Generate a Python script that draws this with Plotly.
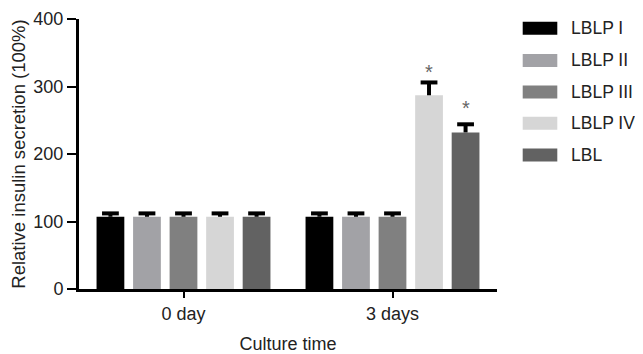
import plotly.graph_objects as go

categories = ["0 day", "3 days"]
series_names = ["LBLP I", "LBLP II", "LBLP III", "LBLP IV", "LBL"]
lblp1 = [107, 107]
lblp2 = [107, 107]
lblp3 = [107, 107]
lblp4 = [107, 287]
lbl = [107, 232]
err1 = [5, 5]
err2 = [5, 5]
err3 = [5, 5]
err4 = [5, 19]
err_lbl = [5, 12]
significant = {"LBLP IV": [False, True], "LBL": [False, True]}

values = [lblp1, lblp2, lblp3, lblp4, lbl]
errors = [err1, err2, err3, err4, err_lbl]
colors = ["#000000", "#a2a2a6", "#808080", "#d6d6d6", "#626262"]
star_shift = {"LBLP IV": 10, "LBL": 16}

FONT = "Liberation Sans, Arial, sans-serif"
BARGAP = 0.126
n = len(series_names)
slot = (1 - BARGAP) / n
xpos = list(range(len(categories)))

fig = go.Figure()
for si, (name, v, e, c) in enumerate(zip(series_names, values, errors, colors)):
    fig.add_trace(go.Bar(
        x=xpos, y=v, name=name, marker=dict(color=c, line=dict(width=0)),
        error_y=dict(type="data", array=e, arrayminus=[0] * len(e), visible=True,
                     color="#000000", thickness=4, width=0),
        showlegend=False,
    ))
    # error bar caps
    fig.add_trace(go.Scatter(
        x=[ci + (si - (n - 1) / 2) * slot for ci in xpos],
        y=[a + b for a, b in zip(v, e)],
        mode="markers", showlegend=False, hoverinfo="skip",
        marker=dict(symbol="line-ew", size=12, line=dict(width=4, color="#000000")),
    ))

# significance stars
for si, name in enumerate(series_names):
    if name not in significant:
        continue
    for ci, flag in enumerate(significant[name]):
        if flag:
            fig.add_annotation(
                x=ci + (si - (n - 1) / 2) * slot, y=values[si][ci] + errors[si][ci],
                xref="x", yref="y", text="*", showarrow=False,
                yanchor="middle", yshift=star_shift[name],
                font=dict(family=FONT, size=20, color="#666666"),
            )

# layout in figure pixels
L, W, T, H = 71, 418, 11, 270
row_y = [20.3, 52.5, 84, 115.3, 147]
for name, c, ypx in zip(series_names, colors, row_y):
    yp = (T + H - ypx) / H
    fig.add_shape(type="rect", xref="paper", yref="paper",
                  x0=(514.7 - L) / W, x1=(549.3 - L) / W,
                  y0=yp - 6.5 / H, y1=yp + 6.5 / H,
                  fillcolor=c, line=dict(width=0))
    fig.add_annotation(xref="paper", yref="paper", x=(560.5 - L) / W, y=yp,
                       xanchor="left", yanchor="middle", showarrow=False,
                       text=name, font=dict(family=FONT, size=17.5, color="#222222"))

fig.update_layout(
    width=643, height=354,
    margin=dict(l=L, r=643 - L - W, t=T, b=354 - T - H),
    paper_bgcolor="white", plot_bgcolor="white",
    barmode="group", bargap=BARGAP, bargroupgap=0.24,
    font=dict(family=FONT, size=18, color="#222222"),
)
fig.update_xaxes(
    automargin=False, range=[-0.5, 1.5],
    tickvals=xpos, ticktext=categories, ticklabeloverflow="allow",
    showline=True, linecolor="#000000", linewidth=3,
    ticks="outside", ticklen=6, tickwidth=2, tickcolor="#000000",
    showgrid=False, zeroline=False,
    title=dict(text="Culture time", font=dict(size=18), standoff=15),
    tickfont=dict(size=18),
)
fig.update_yaxes(
    automargin=False, range=[0, 400], tickvals=[0, 100, 200, 300, 400],
    ticklabeloverflow="allow",
    showline=True, linecolor="#000000", linewidth=3,
    ticks="outside", ticklen=9, tickwidth=2, tickcolor="#000000",
    showgrid=False, zeroline=False,
    title=dict(text="Relative insulin secretion (100%)", font=dict(size=18.5), standoff=3),
    tickfont=dict(size=18),
)

fig.write_html("out.html")
